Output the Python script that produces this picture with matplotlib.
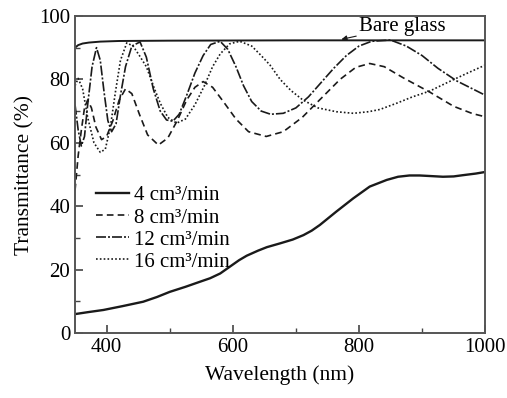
import matplotlib
matplotlib.use("Agg")
import matplotlib.pyplot as plt
from matplotlib.ticker import MultipleLocator

plt.rcParams['font.family'] = ['Liberation Serif', 'DejaVu Serif']

# Bare glass
wl_glass = [350, 355, 362, 372, 390, 420, 500, 700, 1000]
t_glass = [90, 90.8, 91.3, 91.6, 91.9, 92.1, 92.2, 92.3, 92.3]

# 4 cm3/min
wl_4 = [350, 370, 395, 425, 458, 480, 500, 525, 548, 564, 580, 595, 610, 622,
        640, 654, 675, 695, 712, 725, 738, 764, 791, 817, 844, 862, 880, 896,
        915, 933, 950, 965, 985, 1000]
t_4 = [6.0, 6.6, 7.3, 8.5, 9.9, 11.4, 13, 14.6, 16.2, 17.3, 18.8, 20.9, 23.0, 24.4,
       26.0, 27.1, 28.3, 29.5, 30.9, 32.3, 34.1, 38.3, 42.5, 46.2, 48.3, 49.3, 49.7, 49.7,
       49.5, 49.3, 49.4, 49.8, 50.3, 50.8]

# 8 cm3/min
wl_8 = [350, 355, 360, 365, 370, 376, 383, 392, 400, 410, 420, 430, 440, 452,
        465, 482, 497, 512, 527, 540, 553, 568, 585, 605, 625, 653, 680, 710,
        740, 770, 795, 817, 840, 870, 912, 950, 980, 1000]
t_8 = [45, 56, 64, 71, 73.5, 71, 65, 61, 62, 67, 73.5, 77, 75.5, 69,
       62.5, 59.3, 61.5, 67, 73.5, 77.5, 79.3, 77.5, 73, 67.5, 63.5, 62, 63.5, 68,
       74, 80, 83.8, 85, 84, 80.5, 76, 71.5, 69.2, 68.2]

# 12 cm3/min
wl_12 = [350, 355, 360, 365, 370, 377, 384, 390, 396, 402, 408, 415, 422, 430,
         440, 453, 463, 474, 485, 495, 505, 515, 527, 540, 553, 565, 580, 592,
         605, 617, 630, 645, 660, 680, 700, 720, 740, 760, 780, 800, 820, 850,
         875, 900, 925, 955, 980, 1000]
t_12 = [72, 64, 59, 62, 72, 84, 90, 86, 76, 67, 63.5, 66, 75, 84,
        90.5, 91.8, 87, 77, 70, 67.2, 66.8, 69, 75, 82, 87.5, 91, 92, 89.5,
        84, 78, 73, 70, 69, 69.3, 71, 74.5, 79, 83.5, 87.5, 90.5, 92, 92.4,
        90.5, 87.5, 83.5, 79.5, 77, 75]

# 16 cm3/min
wl_16 = [350, 355, 362, 370, 380, 390, 398, 406, 414, 422, 432, 442, 452, 463,
         475, 485, 497, 511, 525, 540, 555, 568, 580, 595, 611, 630, 645, 659,
         675, 692, 711, 735, 764, 791, 815, 833, 860, 885, 912, 940, 970, 1000]
t_16 = [78, 80.3, 77, 68, 60, 57, 58, 65, 76, 86, 91.5, 90.5, 87.5, 84,
        77.5, 72.5, 68, 66.2, 67.5, 72, 78, 84, 88, 91.2, 92, 90.5, 87.5, 84.5,
        80, 76.5, 73.5, 71, 69.8, 69.3, 69.8, 70.5, 72.5, 74.5, 76.3, 79, 81.8, 84.5]

labels = ['4 cm\u00b3/min', '8 cm\u00b3/min', '12 cm\u00b3/min', '16 cm\u00b3/min']

fig = plt.figure(figsize=(5.07, 3.98), dpi=100)
ax = fig.add_axes([0.148, 0.163, 0.809, 0.797])

c = '#1a1a1a'
ax.plot(wl_glass, t_glass, color=c, lw=1.4)
l4, = ax.plot(wl_4, t_4, color=c, lw=1.7, label=labels[0])
l8, = ax.plot(wl_8, t_8, color=c, lw=1.2, dashes=(4, 2.5), label=labels[1])
l12, = ax.plot(wl_12, t_12, color=c, lw=1.2, dashes=(6, 1.2, 1.2, 1.2), label=labels[2])
l16, = ax.plot(wl_16, t_16, color=c, lw=1.2, dashes=(1, 1.3), label=labels[3])

ax.annotate('Bare glass', xy=(772, 92.6), xytext=(800, 96.8),
            fontsize=15, va='center', ha='left',
            arrowprops=dict(arrowstyle='-|>', color=c, lw=0.8,
                            mutation_scale=8, shrinkA=0, shrinkB=0))

ax.set_xlim(350, 1000)
ax.set_ylim(0, 100)
ax.xaxis.set_major_locator(MultipleLocator(200))
ax.xaxis.set_minor_locator(MultipleLocator(100))
ax.yaxis.set_major_locator(MultipleLocator(20))
ax.yaxis.set_minor_locator(MultipleLocator(10))
ax.tick_params(which='both', direction='in', top=False, right=False,
               labelsize=15, color='#444444')
ax.tick_params(which='major', length=6, width=1.2)
ax.tick_params(which='minor', length=3.5, width=1.0)
for s in ax.spines.values():
    s.set_color('#555555')
    s.set_linewidth(1.4)

ax.set_xlabel('Wavelength (nm)', fontsize=15.5, labelpad=6)
ax.set_ylabel('Transmittance (%)', fontsize=15.5, labelpad=3)

ax.legend(handles=[l4, l8, l12, l16], loc='upper left',
          bbox_to_anchor=(0.0, 0.53), frameon=False, fontsize=15,
          handlelength=1.6, handletextpad=0.25, labelspacing=0.12,
          borderaxespad=0.6)

fig.savefig('out.png', dpi=100)
